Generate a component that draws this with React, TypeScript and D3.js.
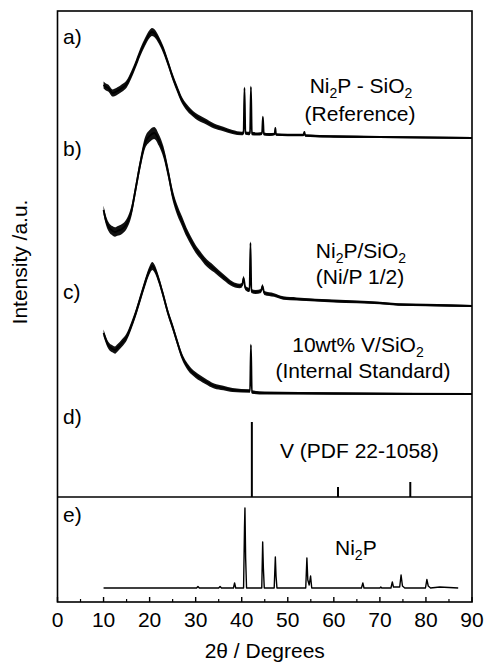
import React from "react";
import * as d3 from "d3";

// ---------- data (2θ in degrees, intensity in a.u.) ----------
const X_TICKS = [0, 10, 20, 30, 40, 50, 60, 70, 80, 90];
const X_MINOR = [5, 15, 25, 35, 45, 55, 65, 75, 85];

// a) Ni2P - SiO2 (Reference)
const traceA: [number, number][] = [
  [10, 53], [10.5, 51], [11, 50], [12, 45], [13, 47], [14, 50], [15, 54], [16, 63], [17, 74],
  [18, 86], [19, 96], [20, 104], [20.5, 106], [21, 105], [22, 98], [23, 88], [24, 75], [25, 61],
  [26, 49], [27, 38], [28, 31], [29, 26], [30, 22], [32, 17], [34, 12], [36, 9], [38, 6],
  [40, 4.5], [40.4, 5], [40.6, 50], [40.8, 5], [41.5, 4.5], [41.8, 5], [42.0, 51], [42.2, 4.5],
  [43.5, 4], [44.4, 4.5], [44.6, 21], [44.8, 4], [46, 3.5], [47.15, 4], [47.3, 10], [47.45, 3.5],
  [50, 3], [53.4, 3], [53.6, 6], [53.8, 2.5], [60, 1.5], [70, 1], [80, 0.5], [90, 0],
];
const noiseA: [number, number][] = [[10, 3.5], [20, 4], [30, 3], [40, 1.8], [50, 1.2], [90, 1]];

// b) Ni2P/SiO2 (Ni/P 1/2)
const traceB: [number, number][] = [
  [10, 96], [10.5, 86], [11, 80], [12, 75], [12.5, 74], [13, 75], [14, 77], [15, 82], [16, 94],
  [17, 118], [18, 143], [19, 163], [20, 170], [21, 173], [22, 166], [23, 154], [24, 134],
  [25, 111], [26, 96], [27, 85], [28, 74], [29, 65], [30, 57], [31, 51], [32, 45], [34, 37],
  [36, 29], [38, 22], [39.5, 20], [40.1, 21], [40.4, 28], [40.8, 18], [41.7, 16], [41.9, 63],
  [42.1, 15], [43, 14], [44.2, 15], [44.5, 20], [44.9, 13], [47, 11], [49, 8], [52, 7],
  [60, 5], [70, 3], [74, 1.5], [80, 1], [90, 0],
];
const noiseB: [number, number][] = [[10, 4.5], [15, 5], [20, 6], [25, 5.5], [30, 4], [35, 3.2], [40, 2.2], [50, 1.6], [90, 1.1]];

// c) 10wt% V/SiO2 (Internal Standard)
const traceC: [number, number][] = [
  [10, 61], [11, 49], [12, 45], [12.5, 44], [13, 46], [14, 51], [15, 57], [16, 68], [17, 81],
  [18, 96], [19, 111], [20, 124], [20.6, 128], [21, 126], [22, 114], [23, 98], [24, 81],
  [25, 67], [26, 52], [27, 38], [28, 29], [29, 23], [30, 19], [32, 13], [34, 8], [36, 6],
  [38, 4], [41.8, 3], [42.0, 49], [42.2, 2], [45, 1], [60, 0.5], [90, 0],
];
const noiseC: [number, number][] = [[10, 3.5], [20, 4], [30, 3], [40, 1.8], [50, 1.2], [90, 1]];

// d) V (PDF 22-1058) stick pattern
const sticksD: [number, number][] = [[42.2, 75], [60.9, 10], [76.6, 15]];

// e) Ni2P
const traceE: [number, number][] = [
  [10, 0], [20, 0], [30.2, 0], [30.5, 1.5], [30.8, 0], [35, 0], [35.3, 1.5], [35.6, 0],
  [38.2, 0], [38.45, 5], [38.7, 0], [40.4, 0], [40.6, 60], [40.7, 80], [40.85, 30], [41.05, 0],
  [44.35, 0], [44.55, 46], [44.7, 20], [44.9, 0], [47.05, 0], [47.3, 31], [47.45, 12], [47.65, 0],
  [53.9, 0], [54.15, 30], [54.35, 8], [54.65, 3], [54.95, 12], [55.2, 0], [66.0, 0], [66.3, 5],
  [66.55, 0], [70, 0], [70.2, 1], [70.4, 0], [72.4, 0], [72.7, 6], [72.95, 1], [74.3, 1], [74.6, 13],
  [74.9, 2], [75.4, 0], [79.9, 0], [80.2, 8.5], [80.5, 2], [81, 0], [83, 1], [87, 0],
];

const OFFSET_A = 359;
const OFFSET_B = 191;
const OFFSET_C = 103;
const OFFSET_E = 14;

const FONT = "'Liberation Sans', Arial, Helvetica, sans-serif";

export default function App() {
  const W = 486;
  const H = 662;
  const x = d3.scaleLinear().domain([0, 90]).range([57.5, 472]);
  const yUp = d3.scaleLinear().domain([0, 486]).range([497, 11]);
  const yLo = d3.scaleLinear().domain([0, 105]).range([602, 497]);
  const top = yUp(486);
  const mid = yUp(0);
  const bot = yLo(0);

  const lineUp = (off: number) =>
    d3.line<[number, number]>().x((d) => x(d[0])).y((d) => yUp(d[1] + off)).curve(d3.curveMonotoneX);

  const bandUp = (data: [number, number][], noise: [number, number][], off: number) => {
    const n = d3.scaleLinear().domain(noise.map((d) => d[0])).range(noise.map((d) => d[1]));
    return d3
      .area<[number, number]>()
      .x((d) => x(d[0]))
      .y0((d) => yUp(d[1] + off) + n(d[0]))
      .y1((d) => yUp(d[1] + off) - n(d[0]))
      .curve(d3.curveMonotoneX)(data) as string;
  };

  const lineE = d3
    .line<[number, number]>()
    .x((d) => x(d[0]))
    .y((d) => yLo(d[1] + OFFSET_E))
    .curve(d3.curveLinear);

  const traces = [
    { d: traceA, n: noiseA, off: OFFSET_A },
    { d: traceB, n: noiseB, off: OFFSET_B },
    { d: traceC, n: noiseC, off: OFFSET_C },
  ];

  const txt = { fontFamily: FONT, fontSize: 21, fill: "#000" } as const;
  const sub = { fontSize: 14 } as const;

  return (
    <svg width={W} height={H} style={{ position: "absolute", left: 0, top: 0, background: "#fff" }}>
      <rect x={0} y={0} width={W} height={H} fill="#fff" />
      {traces.map((t, i) => (
        <g key={i}>
          <path d={bandUp(t.d, t.n, t.off)} fill="#111" stroke="none" />
          <path d={lineUp(t.off)(t.d) as string} fill="none" stroke="#000" strokeWidth={1.8} />
        </g>
      ))}
      {sticksD.map((s, i) => (
        <line key={i} x1={x(s[0])} x2={x(s[0])} y1={yUp(0)} y2={yUp(s[1])} stroke="#000" strokeWidth={2} />
      ))}
      <path d={lineE(traceE) as string} fill="none" stroke="#000" strokeWidth={1.4} strokeLinejoin="round" />

      {/* frame */}
      <rect x={x(0)} y={top} width={x(90) - x(0)} height={bot - top} fill="none" stroke="#000" strokeWidth={1.6} />
      <line x1={x(0)} x2={x(90)} y1={mid} y2={mid} stroke="#000" strokeWidth={1.4} />

      {/* x ticks */}
      {X_TICKS.map((v) => (
        <g key={v}>
          <line x1={x(v)} x2={x(v)} y1={bot} y2={bot - 5} stroke="#000" strokeWidth={1.4} />
          <text x={x(v)} y={627} textAnchor="middle" {...txt}>
            {v}
          </text>
        </g>
      ))}
      {X_MINOR.map((v) => (
        <line key={v} x1={x(v)} x2={x(v)} y1={bot} y2={bot - 3} stroke="#000" strokeWidth={1.2} />
      ))}

      {/* axis titles */}
      <text x={x(45)} y={658} textAnchor="middle" {...txt}>
        2θ / Degrees
      </text>
      <text transform="translate(27,262) rotate(-90)" textAnchor="middle" {...txt}>
        Intensity /a.u.
      </text>

      {/* panel labels */}
      <text x={63} y={44} {...txt}>a)</text>
      <text x={63} y={156} {...txt}>b)</text>
      <text x={63} y={299} {...txt}>c)</text>
      <text x={63} y={424} {...txt}>d)</text>
      <text x={63} y={522} {...txt}>e)</text>

      {/* annotations */}
      <text x={361} y={93} textAnchor="middle" {...txt}>
        Ni<tspan dy={5} {...sub}>2</tspan>
        <tspan dy={-5}>P - SiO</tspan>
        <tspan dy={5} {...sub}>2</tspan>
      </text>
      <text x={360} y={121} textAnchor="middle" {...txt}>(Reference)</text>

      <text x={361} y={258} textAnchor="middle" {...txt}>
        Ni<tspan dy={5} {...sub}>2</tspan>
        <tspan dy={-5}>P/SiO</tspan>
        <tspan dy={5} {...sub}>2</tspan>
      </text>
      <text x={360} y={284} textAnchor="middle" {...txt}>(Ni/P 1/2)</text>

      <text x={358} y={352} textAnchor="middle" {...txt}>
        10wt% V/SiO<tspan dy={5} {...sub}>2</tspan>
      </text>
      <text x={363} y={378} textAnchor="middle" {...txt}>(Internal Standard)</text>

      <text x={280} y={458} {...txt}>V (PDF 22-1058)</text>

      <text x={335} y={555} {...txt}>
        Ni<tspan dy={5} {...sub}>2</tspan>
        <tspan dy={-5}>P</tspan>
      </text>
    </svg>
  );
}
